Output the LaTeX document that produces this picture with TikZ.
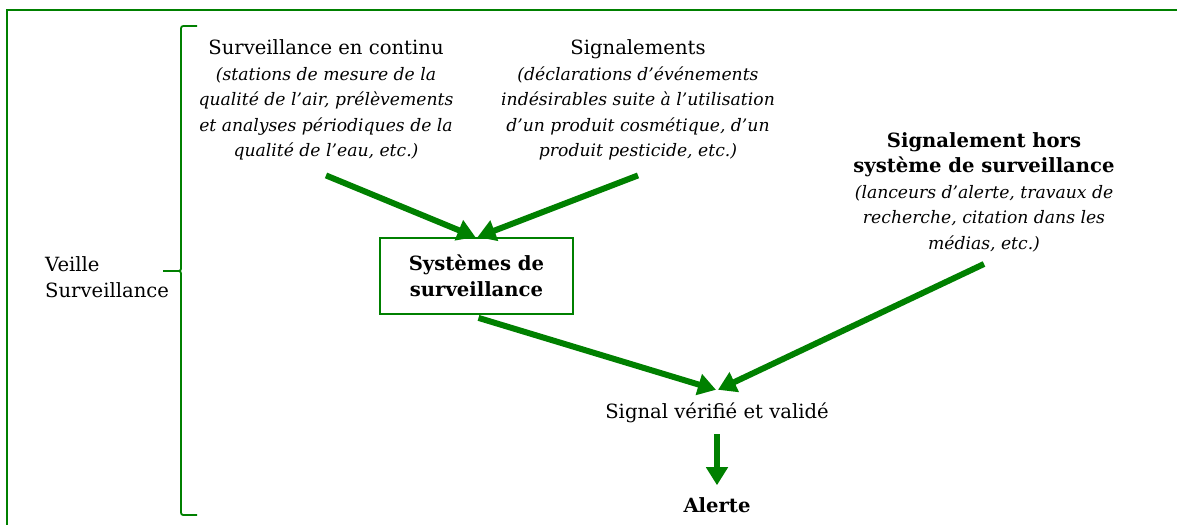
\documentclass[tikz,border=0pt]{standalone}
\usepackage{fontspec}
\setmainfont{DejaVu Serif}
\usetikzlibrary{arrows.meta}
\definecolor{vert}{RGB}{0,128,0}
\newcommand\precis[1]{{\fontsize{17.2}{25.5}\selectfont\itshape #1}}
\begin{document}
\begin{tikzpicture}[x=1pt,y=-1pt,
    txt/.style={align=center,inner sep=0pt,font=\fontsize{19.6}{25.5}\selectfont},
    fleche/.style={vert,line width=6pt,-{Triangle[length=18pt,width=21pt]}},
    cadre/.style={vert,line width=1.8pt}]
  \useasboundingbox (0,0) rectangle (1177,525);
  \draw[cadre] (1177,10) -- (7,10) -- (7,525);
  \draw[cadre] (197,26) -- (186,26) .. controls (181,26) .. (181,31) -- (181,266) .. controls (181,271) .. (176,271) -- (163,271);
  \draw[cadre] (163,271) -- (176,271) .. controls (181,271) .. (181,276) -- (181,510) .. controls (181,515) .. (186,515) -- (197,515);
  \node[txt,anchor=west,align=left] (veille) at (45,277) {Veille\\Surveillance};
  \node[txt] (continu) at (326,100) {Surveillance en continu\\\precis{(stations de mesure de la}\\\precis{qualité de l’air, prélèvements}\\\precis{et analyses périodiques de la}\\\precis{qualité de l’eau, etc.)}};
  \node[txt] (signalements) at (638,100) {Signalements\\\precis{(déclarations d’événements}\\\precis{indésirables suite à l’utilisation}\\\precis{d’un produit cosmétique, d’un}\\\precis{produit pesticide, etc.)}};
  \node[txt] (hors) at (984,192) {\textbf{Signalement hors}\\\textbf{système de surveillance}\\\precis{(lanceurs d’alerte, travaux de}\\\precis{recherche, citation dans les}\\\precis{médias, etc.)}};
  \node[txt,draw=vert,line width=1.8pt,minimum width=193pt,minimum height=76pt] (systemes) at (476.5,276) {\textbf{Systèmes de}\\\textbf{surveillance}};
  \node[txt] (signal) at (717,413) {Signal vérifié et validé};
  \node[txt] (alerte) at (717,505) {\textbf{Alerte}};
  \draw[fleche] ([yshift=-15pt]continu.south) -- ([xshift=-1pt]systemes.north);
  \draw[fleche] ([yshift=-15pt]signalements.south) -- ([xshift=1pt]systemes.north);
  \draw[fleche] ([shift={(2pt,-3pt)}]systemes.south) -- ([shift={(-1pt,13pt)}]signal.north);
  \draw[fleche] ([yshift=-12pt]hors.south) -- ([shift={(1pt,13pt)}]signal.north);
  \draw[fleche] ([yshift=-11pt]signal.south) -- ([yshift=12pt]alerte.north);
\end{tikzpicture}
\end{document}
